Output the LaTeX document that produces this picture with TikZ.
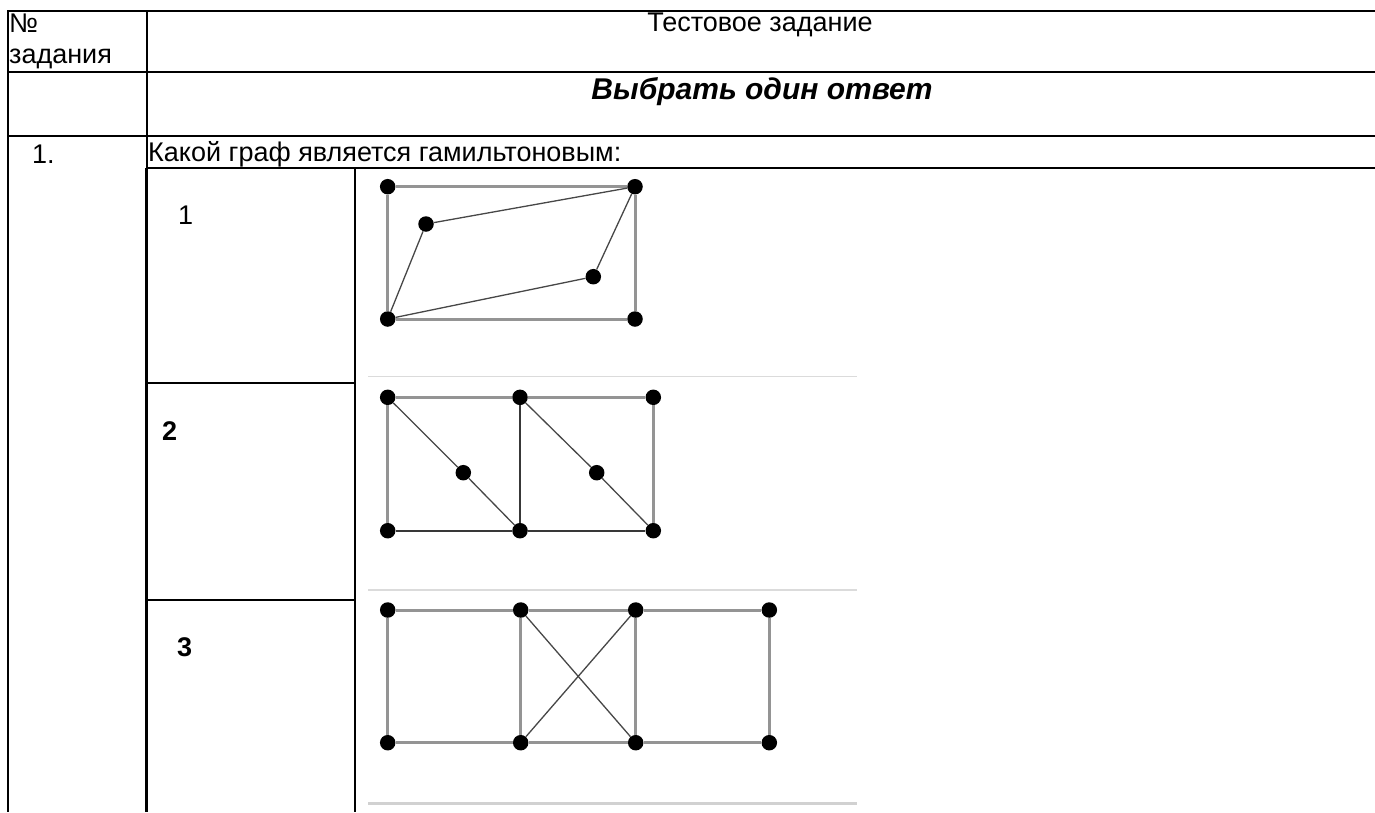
\documentclass[tikz,border=0pt]{standalone}
\usepackage{fontspec}
\setmainfont{Liberation Sans}

\tikzset{
    rule/.style={line width=2pt},
    thickrule/.style={line width=3pt},
    sepline/.style={draw=black!14, line width=1.5pt},
    vtx/.style={circle, fill=black, inner sep=0pt, minimum size=15.5pt},
    grayedge/.style={draw=black!42, line width=3pt},
    darkedge/.style={draw=black!78, line width=1.8pt},
    thinedge/.style={draw=black!72, line width=1.3pt},
    cell/.style={anchor=base west, inner sep=0pt, font=\fontsize{27}{30}\selectfont},
}

\begin{document}
\begin{tikzpicture}[x=1pt, y=-1pt]
        \useasboundingbox (0, 0) rectangle (1375, 812);
        % outer table
        \draw[rule] (8, 11) -- (1375, 11) (8, 72) -- (1375, 72) (8, 136) -- (1375, 136) (146, 168) -- (1375, 168);
        \draw[rule] (8, 10) -- (8, 812) (146.5, 10) -- (146.5, 168);
        \draw[thickrule] (146.5, 168) -- (146.5, 812);
        % inner table
        \draw[rule] (355, 168) -- (355, 812) (146, 383) -- (355, 383) (146, 600) -- (355, 600);
        \draw[sepline] (368, 376.5) -- (857, 376.5) (368, 590) -- (857, 590);
        \draw[sepline, draw=black!18, line width=3pt] (368, 803) -- (857, 803);

        \node[cell] (nohead) at (9, 32) {№};
        \node[cell] (nohead2) at (9, 63) {задания};
        \node[cell, anchor=base] (taskhead) at (760, 31) {Тестовое задание};
        \node[cell, anchor=base, font=\fontsize{30}{32}\selectfont\bfseries\itshape] (mode) at (762, 99) {Выбрать один ответ};
        \node[cell] (num) at (32, 163) {1.};
        \node[cell] (question) at (148, 161) {Какой граф является гамильтоновым:};
        \node[cell] (opt1) at (178, 224) {1};
        \node[cell, font=\fontsize{27}{30}\selectfont\bfseries] (opt2) at (162, 440) {2};
        \node[cell, font=\fontsize{27}{30}\selectfont\bfseries] (opt3) at (177, 656) {3};

        % graph 1
        \node[vtx] (g1tl) at (387.7, 186.7) {};
        \node[vtx] (g1tr) at (635, 186.7) {};
        \node[vtx] (g1a) at (426, 224) {};
        \node[vtx] (g1b) at (593.3, 276.7) {};
        \node[vtx] (g1bl) at (387.7, 319) {};
        \node[vtx] (g1br) at (635, 319) {};
        \draw[grayedge] (g1tl) -- (g1tr) -- (g1br) -- (g1bl) -- (g1tl);
        \draw[thinedge] (g1bl) -- (g1a) -- (g1tr) -- (g1b) -- (g1bl);

        % graph 2
        \node[vtx] (g2tl) at (387.7, 397.3) {};
        \node[vtx] (g2tm) at (520, 397.3) {};
        \node[vtx] (g2tr) at (653.3, 397.3) {};
        \node[vtx] (g2ma) at (463.3, 472.7) {};
        \node[vtx] (g2mb) at (596.7, 472.7) {};
        \node[vtx] (g2bl) at (387.7, 530.7) {};
        \node[vtx] (g2bm) at (520, 530.7) {};
        \node[vtx] (g2br) at (653.3, 530.7) {};
        \draw[grayedge] (g2bl) -- (g2tl) -- (g2tm) -- (g2tr) -- (g2br);
        \draw[darkedge] (g2bl) -- (g2bm) -- (g2br) (g2tm) -- (g2bm);
        \draw[thinedge] (g2tl) -- (g2ma) -- (g2bm) (g2tm) -- (g2mb) -- (g2br);

        % graph 3
        \foreach \i/\x in {1/387.7, 2/520.7, 3/635.7, 4/769.3} {
            \node[vtx] (g3t\i) at (\x, 610) {};
            \node[vtx] (g3b\i) at (\x, 742.7) {};
        }
        \draw[grayedge] (g3t1) -- (g3t2) -- (g3t3) -- (g3t4) -- (g3b4) -- (g3b3) -- (g3b2) -- (g3b1) -- (g3t1)
            (g3t2) -- (g3b2) (g3t3) -- (g3b3);
        \draw[thinedge] (g3t2) -- (g3b3) (g3b2) -- (g3t3);
\end{tikzpicture}
\end{document}
